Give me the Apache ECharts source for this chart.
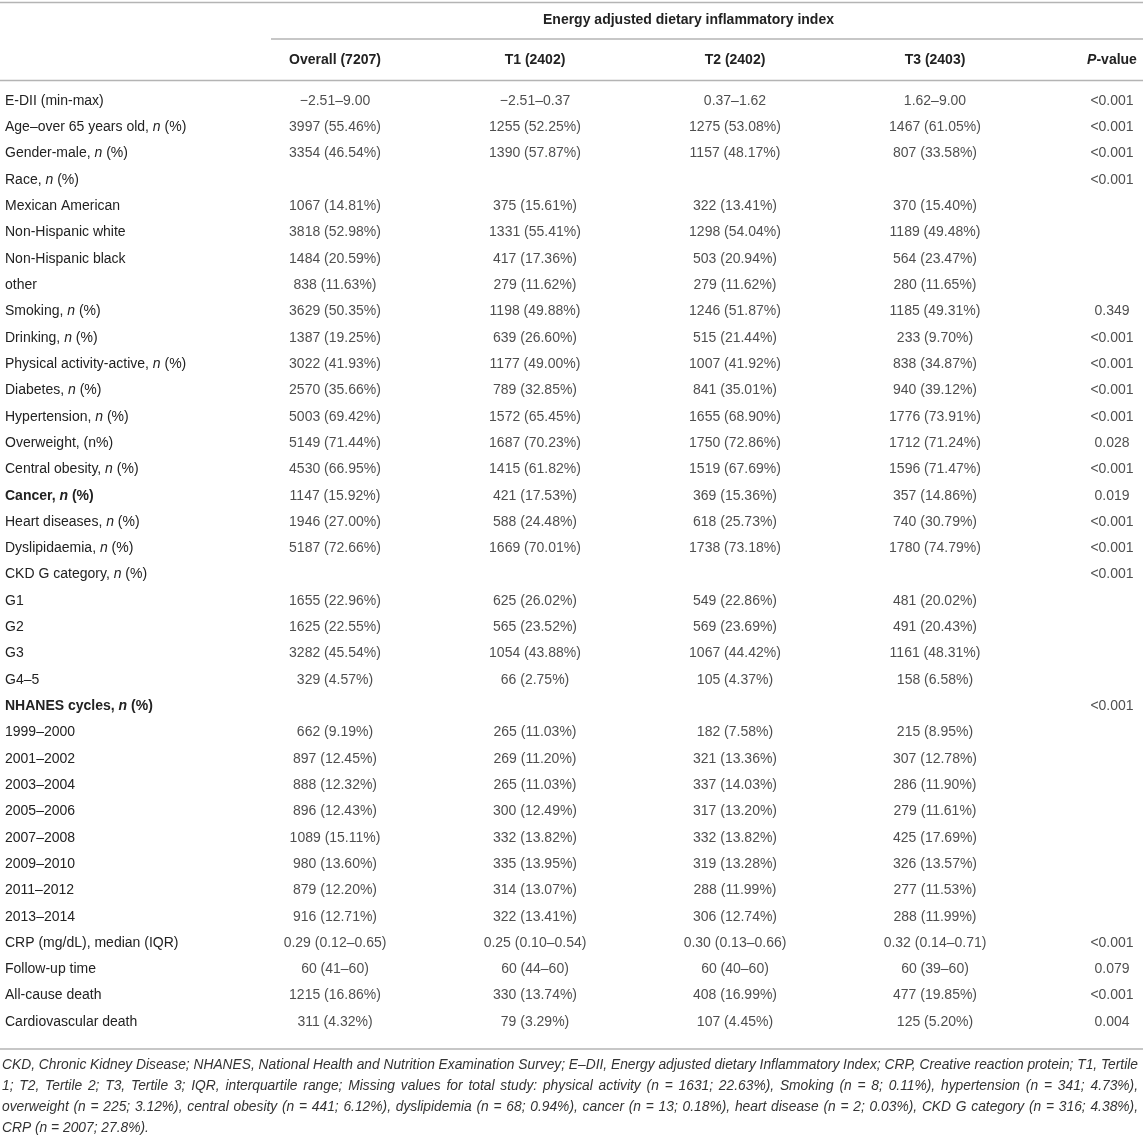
<!DOCTYPE html>
<html>
<head>
<meta charset="utf-8">
<script src="https://cdn.jsdelivr.net/npm/echarts@6/dist/echarts.min.js"></script>
<style>
  html, body { margin: 0; padding: 0; background: #fff; }
  #table_chart { width: 1143px; height: 1136px; }
</style>
</head>
<body>
<div id="table_chart"></div>
<script>
// table content
var groupTitle = 'Energy adjusted dietary inflammatory index';
var columns = ['Overall (7207)', 'T1 (2402)', 'T2 (2402)', 'T3 (2403)', 'P-value'];
var boldRows = ['Cancer, n (%)', 'NHANES cycles, n (%)'];
var rowLabels = [
    'E-DII (min-max)', 'Age–over 65 years old, n (%)', 'Gender-male, n (%)', 'Race, n (%)',
    'Mexican American', 'Non-Hispanic white', 'Non-Hispanic black', 'other',
    'Smoking, n (%)', 'Drinking, n (%)', 'Physical activity-active, n (%)', 'Diabetes, n (%)',
    'Hypertension, n (%)', 'Overweight, (n%)', 'Central obesity, n (%)', 'Cancer, n (%)',
    'Heart diseases, n (%)', 'Dyslipidaemia, n (%)', 'CKD G category, n (%)',
    'G1', 'G2', 'G3', 'G4–5',
    'NHANES cycles, n (%)',
    '1999–2000', '2001–2002', '2003–2004', '2005–2006', '2007–2008', '2009–2010', '2011–2012', '2013–2014',
    'CRP (mg/dL), median (IQR)', 'Follow-up time', 'All-cause death', 'Cardiovascular death'
];
var overall = [
    '−2.51–9.00', '3997 (55.46%)', '3354 (46.54%)', '',
    '1067 (14.81%)', '3818 (52.98%)', '1484 (20.59%)', '838 (11.63%)',
    '3629 (50.35%)', '1387 (19.25%)', '3022 (41.93%)', '2570 (35.66%)',
    '5003 (69.42%)', '5149 (71.44%)', '4530 (66.95%)', '1147 (15.92%)',
    '1946 (27.00%)', '5187 (72.66%)', '',
    '1655 (22.96%)', '1625 (22.55%)', '3282 (45.54%)', '329 (4.57%)',
    '',
    '662 (9.19%)', '897 (12.45%)', '888 (12.32%)', '896 (12.43%)', '1089 (15.11%)', '980 (13.60%)', '879 (12.20%)', '916 (12.71%)',
    '0.29 (0.12–0.65)', '60 (41–60)', '1215 (16.86%)', '311 (4.32%)'
];
var tertile1 = [
    '−2.51–0.37', '1255 (52.25%)', '1390 (57.87%)', '',
    '375 (15.61%)', '1331 (55.41%)', '417 (17.36%)', '279 (11.62%)',
    '1198 (49.88%)', '639 (26.60%)', '1177 (49.00%)', '789 (32.85%)',
    '1572 (65.45%)', '1687 (70.23%)', '1415 (61.82%)', '421 (17.53%)',
    '588 (24.48%)', '1669 (70.01%)', '',
    '625 (26.02%)', '565 (23.52%)', '1054 (43.88%)', '66 (2.75%)',
    '',
    '265 (11.03%)', '269 (11.20%)', '265 (11.03%)', '300 (12.49%)', '332 (13.82%)', '335 (13.95%)', '314 (13.07%)', '322 (13.41%)',
    '0.25 (0.10–0.54)', '60 (44–60)', '330 (13.74%)', '79 (3.29%)'
];
var tertile2 = [
    '0.37–1.62', '1275 (53.08%)', '1157 (48.17%)', '',
    '322 (13.41%)', '1298 (54.04%)', '503 (20.94%)', '279 (11.62%)',
    '1246 (51.87%)', '515 (21.44%)', '1007 (41.92%)', '841 (35.01%)',
    '1655 (68.90%)', '1750 (72.86%)', '1519 (67.69%)', '369 (15.36%)',
    '618 (25.73%)', '1738 (73.18%)', '',
    '549 (22.86%)', '569 (23.69%)', '1067 (44.42%)', '105 (4.37%)',
    '',
    '182 (7.58%)', '321 (13.36%)', '337 (14.03%)', '317 (13.20%)', '332 (13.82%)', '319 (13.28%)', '288 (11.99%)', '306 (12.74%)',
    '0.30 (0.13–0.66)', '60 (40–60)', '408 (16.99%)', '107 (4.45%)'
];
var tertile3 = [
    '1.62–9.00', '1467 (61.05%)', '807 (33.58%)', '',
    '370 (15.40%)', '1189 (49.48%)', '564 (23.47%)', '280 (11.65%)',
    '1185 (49.31%)', '233 (9.70%)', '838 (34.87%)', '940 (39.12%)',
    '1776 (73.91%)', '1712 (71.24%)', '1596 (71.47%)', '357 (14.86%)',
    '740 (30.79%)', '1780 (74.79%)', '',
    '481 (20.02%)', '491 (20.43%)', '1161 (48.31%)', '158 (6.58%)',
    '',
    '215 (8.95%)', '307 (12.78%)', '286 (11.90%)', '279 (11.61%)', '425 (17.69%)', '326 (13.57%)', '277 (11.53%)', '288 (11.99%)',
    '0.32 (0.14–0.71)', '60 (39–60)', '477 (19.85%)', '125 (5.20%)'
];
var pValues = [
    '<0.001', '<0.001', '<0.001', '<0.001',
    '', '', '', '',
    '0.349', '<0.001', '<0.001', '<0.001',
    '<0.001', '0.028', '<0.001', '0.019',
    '<0.001', '<0.001', '<0.001',
    '', '', '', '',
    '<0.001',
    '', '', '', '', '', '', '', '',
    '<0.001', '0.079', '<0.001', '0.004'
];
var footnoteLines = [
    'CKD, Chronic Kidney Disease; NHANES, National Health and Nutrition Examination Survey; E–DII, Energy adjusted dietary Inflammatory Index; CRP, Creative reaction protein; T1, Tertile',
    '1; T2, Tertile 2; T3, Tertile 3; IQR, interquartile range; Missing values for total study: physical activity (n = 1631; 22.63%), Smoking (n = 8; 0.11%), hypertension (n = 341; 4.73%),',
    'overweight (n = 225; 3.12%), central obesity (n = 441; 6.12%), dyslipidemia (n = 68; 0.94%), cancer (n = 13; 0.18%), heart disease (n = 2; 0.03%), CKD G category (n = 316; 4.38%),',
    'CRP (n = 2007; 27.8%).'
];

var tableChart = {
    font: 'Liberation Sans',
    ink: '#222',
    rule: '#b4b4b4',
    noteFont: 'italic 13.8px "Liberation Sans"',

    init: function () {
        var $this = this;
        var chart = echarts.init(document.getElementById('table_chart'), null, {renderer: 'canvas'});
        var cells = [overall, tertile1, tertile2, tertile3, pValues];

        var series = cells.map(function (col, c) {
            var data = [];
            col.forEach(function (text, r) {
                if (text !== '') {
                    data.push([c, r, text]);
                }
            });
            return {
                type: 'scatter',
                symbolSize: 0,
                silent: true,
                data: data,
                label: {
                    show: true,
                    position: 'inside',
                    offset: c === 4 ? [-23, 0] : [0, 0],
                    fontFamily: $this.font,
                    fontSize: 14,
                    color: $this.ink,
                    formatter: function (p) { return p.value[2]; }
                }
            };
        });

        var headerData = columns.map(function (name) {
            if (name === 'P-value') {
                return {value: '{pi|P}{pv|-value}'};
            }
            return name;
        });

        var option = {
            animation: false,
            backgroundColor: '#fff',
            title: {
                text: groupTitle,
                left: 543,
                top: 13,
                padding: 0,
                textStyle: {fontFamily: $this.font, fontSize: 14, fontWeight: 'bold', color: $this.ink}
            },
            // columns sit on the ticks (boundaryGap false), 200px apart
            grid: {left: 335, top: 87.8, right: 8, height: 947.3},
            xAxis: {
                type: 'category',
                position: 'top',
                boundaryGap: false,
                data: headerData,
                axisLine: {show: false},
                axisTick: {show: false},
                splitLine: {show: false},
                axisLabel: {
                    interval: 0,
                    margin: 27.8,
                    verticalAlign: 'middle',
                    fontFamily: $this.font,
                    fontSize: 14,
                    fontWeight: 'bold',
                    color: $this.ink,
                    rich: {
                        pi: {fontFamily: $this.font, fontSize: 14, fontWeight: 'bold', fontStyle: 'italic', color: $this.ink},
                        pv: {fontFamily: $this.font, fontSize: 14, fontWeight: 'bold', color: $this.ink, padding: [0, 46, 0, 0]}
                    }
                }
            },
            yAxis: {
                type: 'category',
                inverse: true,
                data: rowLabels,
                axisLine: {show: false},
                axisTick: {show: false},
                splitLine: {show: false},
                axisLabel: {
                    interval: 0,
                    margin: 330,
                    align: 'left',
                    formatter: function (label) {
                        var s = boldRows.indexOf(label) >= 0 ? 'b' : 'r';
                        if (label.indexOf(', n (%)') >= 0) {
                            var head = label.split(', n (%)')[0];
                            return '{' + s + '|' + head + ', }{' + s + 'i|n}{' + s + '| (%)}';
                        }
                        return '{' + s + '|' + label + '}';
                    },
                    rich: {
                        r: {fontFamily: $this.font, fontSize: 14, color: $this.ink},
                        ri: {fontFamily: $this.font, fontSize: 14, fontStyle: 'italic', color: $this.ink},
                        b: {fontFamily: $this.font, fontSize: 14, fontWeight: 'bold', color: $this.ink},
                        bi: {fontFamily: $this.font, fontSize: 14, fontWeight: 'bold', fontStyle: 'italic', color: $this.ink}
                    }
                }
            },
            graphic: $this.rules().concat($this.footnote()),
            series: series
        };

        chart.setOption(option);
    },

    // horizontal table rules
    rules: function () {
        var $this = this;
        var spans = [[0, 1143, 2.5], [271, 1143, 39], [0, 1143, 80.5], [0, 1143, 1049]];
        return spans.map(function (s) {
            return {
                type: 'line',
                silent: true,
                shape: {x1: s[0], y1: s[2], x2: s[1], y2: s[2]},
                style: {stroke: $this.rule, lineWidth: 1.5}
            };
        });
    },

    // footnote is justified in the source: stretch the word gaps of all but the last line
    footnote: function () {
        var $this = this;
        var ctx = document.createElement('canvas').getContext('2d');
        ctx.font = $this.noteFont;
        var fullWidth = 1136;
        var last = footnoteLines.length - 1;

        return footnoteLines.map(function (line, i) {
            var words = line.split(' ');
            var gap = ctx.measureText(' ').width;
            if (i < last) {
                gap += (fullWidth - ctx.measureText(line).width) / (words.length - 1);
            }
            var text = words.map(function (w) { return '{w|' + w + '}'; }).join('{g| }');
            return {
                type: 'text',
                silent: true,
                left: 2,
                top: 1058 + i * 21,
                style: {
                    text: text,
                    font: $this.noteFont,
                    fill: '#333',
                    rich: {
                        w: {font: $this.noteFont, fill: '#333'},
                        g: {font: $this.noteFont, fill: '#333', width: gap}
                    }
                }
            };
        });
    }
};

tableChart.init();
</script>
</body>
</html>
